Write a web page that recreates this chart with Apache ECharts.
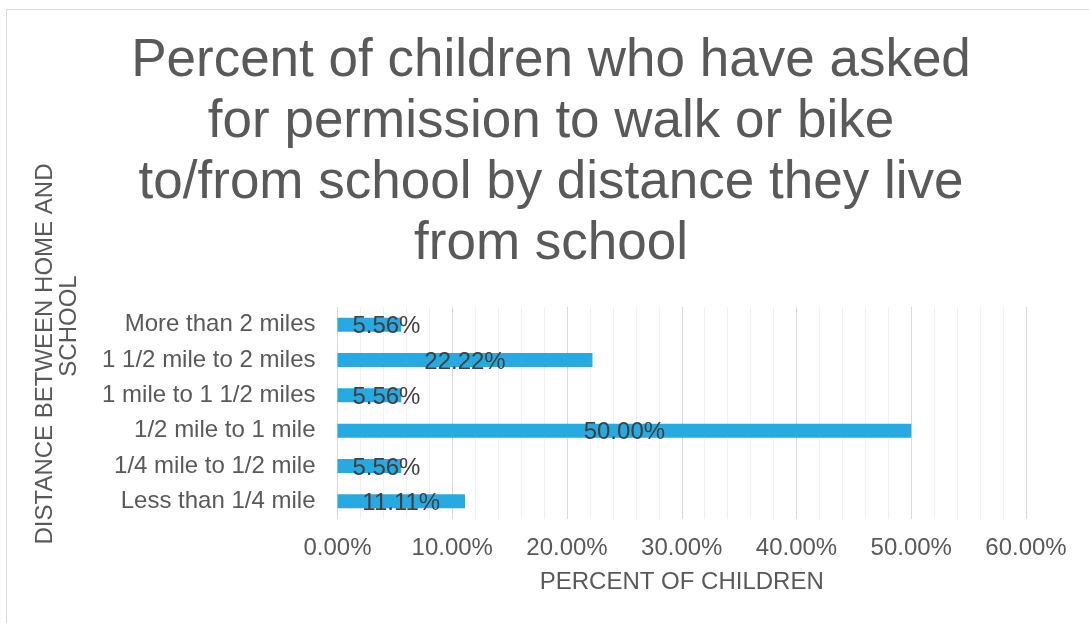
<!DOCTYPE html>
<html>
<head>
<meta charset="utf-8">
<title>Permission to walk or bike by distance</title>
<script src="https://cdn.jsdelivr.net/npm/echarts@6/dist/echarts.min.js"></script>
<style>
  html, body { margin: 0; padding: 0; background: #ffffff; }
  #chart { width: 1089px; height: 623px; }
</style>
</head>
<body>
<div id="chart"></div>
<script>
// Distance bands, listed bottom to top as the category axis draws them
const categories = [
  'Less than 1/4 mile',
  '1/4 mile to 1/2 mile',
  '1/2 mile to 1 mile',
  '1 mile to 1 1/2 miles',
  '1 1/2 mile to 2 miles',
  'More than 2 miles'
];

// Share of children (percent) who asked for permission
const percentAsked = [11.11, 5.56, 50.00, 5.56, 22.22, 5.56];

// Value axis range and step (percent)
const axisMin = 0;
const axisMax = 60;
const axisStep = 10;

const titleText = 'Percent of children who have asked\nfor permission to walk or bike\nto/from school by distance they live\nfrom school';
const xAxisTitle = 'PERCENT OF CHILDREN';
const yAxisTitleLines = ['DISTANCE BETWEEN HOME AND', 'SCHOOL'];

const FONT = '"Liberation Sans", Arial, sans-serif';
const GREY = '#595959';
const SIZE = 24;

const chart = echarts.init(document.getElementById('chart'), null, { renderer: 'canvas' });

const barData = percentAsked.map(v => ({
  value: v,
  // short bars: nudge the value label right so it clears the axis
  label: { offset: [v < 8 ? 17 : 0, 2] }
}));

chart.setOption({
  animation: false,
  backgroundColor: '#ffffff',
  textStyle: { fontFamily: FONT },
  grid: { left: 337.5, right: 63, top: 307, bottom: 104, containLabel: false },
  xAxis: {
    type: 'value',
    min: axisMin,
    max: axisMax,
    interval: axisStep,
    name: xAxisTitle,
    nameLocation: 'middle',
    nameGap: 51,
    nameTextStyle: { color: GREY, fontSize: SIZE, fontFamily: FONT },
    axisLine: { show: false },
    axisTick: { show: false },
    axisLabel: {
      color: GREY, fontSize: SIZE, fontFamily: FONT, margin: 17,
      formatter: v => v.toFixed(2) + '%'
    },
    splitLine: { show: true, lineStyle: { color: '#d9d9d9', width: 1 } },
    minorTick: { show: false, splitNumber: 5 },
    minorSplitLine: { show: true, lineStyle: { color: '#f0f0f0', width: 1 } }
  },
  yAxis: {
    type: 'category',
    data: categories,
    axisLine: { show: false },
    axisTick: { show: false },
    axisLabel: { color: GREY, fontSize: SIZE, fontFamily: FONT, margin: 22 },
    splitLine: { show: false }
  },
  series: [{
    type: 'bar',
    data: barData,
    barWidth: 14,
    itemStyle: { color: '#27A9E1' },
    label: {
      show: true,
      position: 'inside',
      color: '#404040',
      fontSize: SIZE,
      fontFamily: FONT,
      formatter: p => p.value.toFixed(2) + '%'
    }
  }],
  graphic: [
    {
      type: 'rect',
      silent: true,
      shape: { x: 6.5, y: 9.5, width: 1200, height: 800 },
      style: { fill: 'none', stroke: '#d9d9d9', lineWidth: 1 },
      z: -10
    },
    {
      type: 'text',
      x: 551,
      y: 31,
      style: {
        text: titleText,
        fill: GREY,
        font: '53px ' + FONT,
        lineHeight: 61,
        textAlign: 'center',
        textVerticalAlign: 'top'
      }
    },
    {
      type: 'text',
      x: 45,
      y: 354,
      rotation: Math.PI / 2,
      style: {
        text: yAxisTitleLines[0],
        fill: GREY,
        font: SIZE + 'px ' + FONT,
        textAlign: 'center',
        textVerticalAlign: 'middle'
      }
    },
    {
      type: 'text',
      x: 69.5,
      y: 326,
      rotation: Math.PI / 2,
      style: {
        text: yAxisTitleLines[1],
        fill: GREY,
        font: SIZE + 'px ' + FONT,
        textAlign: 'center',
        textVerticalAlign: 'middle'
      }
    }
  ]
});
</script>
</body>
</html>
